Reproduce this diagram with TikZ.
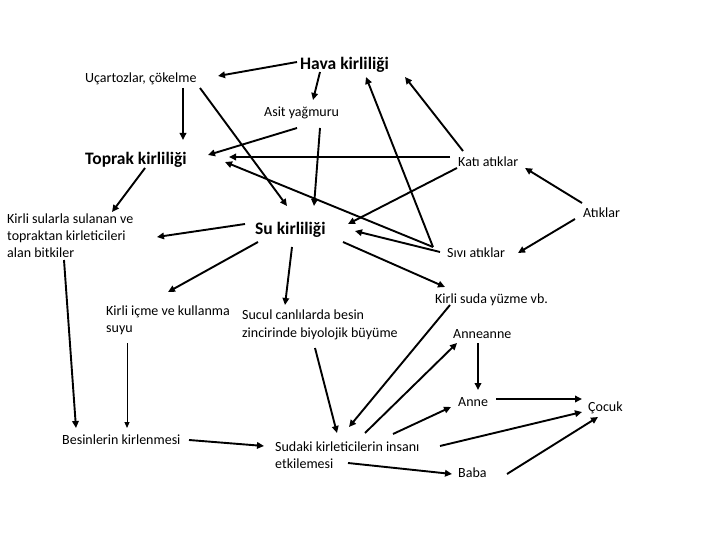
\documentclass[tikz,border=0pt]{standalone}
\usepackage{fontspec}
\setmainfont{Carlito}
\usetikzlibrary{arrows.meta}
\begin{document}
\begin{tikzpicture}[x=1pt,y=-1pt,
  lbl/.style={anchor=base west,inner sep=0pt,font={\fontsize{14}{16.5}\selectfont},align=left},
  big/.style={anchor=base west,inner sep=0pt,font={\fontsize{17.5}{20}\selectfont\bfseries}},
  arr/.style={line width=1.9pt,-{Triangle[length=7pt,width=6.5pt]}},
  thinarr/.style={line width=1pt,-{Triangle[length=6pt,width=5pt]}}]
\path[use as bounding box] (0,0) rectangle (720,540);
\node[big] (hava) at (300,70) {Hava kirliliği};
\node[lbl] (ucar) at (85,83) {Uçartozlar, çökelme};
\node[lbl] (asit) at (264,117) {Asit yağmuru};
\node[big] (toprak) at (85,165) {Toprak kirliliği};
\node[lbl] (kati) at (458,167) {Katı atıklar};
\node[lbl] (atik) at (583,218) {Atıklar};
\node[lbl] (sivi) at (447,257) {Sıvı atıklar};
\node[big] (su) at (255,234) {Su kirliliği};
\node[lbl] (bitki) at (7,257) {Kirli sularla sulanan ve\\topraktan kirleticileri\\alan bitkiler};
\node[lbl] (icme) at (106,332) {Kirli içme ve kullanma\\suyu};
\node[lbl,font={\fontsize{14}{18}\selectfont}] (sucul) at (242,337) {Sucul canlılarda besin\\zincirinde biyolojik büyüme};
\node[lbl] (yuzme) at (435,303) {Kirli suda yüzme vb.};
\node[lbl] (anneanne) at (453,338) {Anneanne};
\node[lbl] (anne) at (458,406) {Anne};
\node[lbl] (cocuk) at (588,411) {Çocuk};
\node[lbl] (besin) at (62,444) {Besinlerin kirlenmesi};
\node[lbl,font={\fontsize{14}{17}\selectfont}] (sudaki) at (275,468) {Sudaki kirleticilerin insanı\\etkilemesi};
\node[lbl] (baba) at (458,477) {Baba};
\draw[arr] ([shift={(-3,-8)}]hava.base west) -- ([shift={(133,-7)}]ucar.base west);
\draw[arr] ([shift={(20,2)}]hava.base west) -- ([shift={(49,-17)}]asit.base west);
\draw[arr] ([shift={(98,5)}]ucar.base west) -- ([shift={(98,-25)}]toprak.base west);
\draw[arr] ([shift={(115,5)}]ucar.base west) -- ([shift={(32,-28)}]su.base west);
\draw[arr] ([shift={(33,11)}]asit.base west) -- ([shift={(123,-10)}]toprak.base west);
\draw[arr] ([shift={(56,11)}]asit.base west) -- ([shift={(59,-28)}]su.base west);
\draw[arr] ([shift={(-8,-10)}]kati.base west) -- ([shift={(144,-8)}]toprak.base west);
\draw[arr] ([shift={(5,-16)}]kati.base west) -- ([shift={(105,7)}]hava.base west);
\draw[arr] ([shift={(-14,-10)}]sivi.base west) -- ([shift={(66,7)}]hava.base west);
\draw[arr] ([shift={(-14,-10)}]sivi.base west) -- ([shift={(140,-3)}]toprak.base west);
\draw[arr] ([shift={(-7,-5)}]sivi.base west) -- ([shift={(100,-3)}]su.base west);
\draw[arr] ([shift={(-1,1)}]kati.base west) -- ([shift={(93,-10)}]su.base west);
\draw[arr] ([shift={(-1,-15)}]atik.base west) -- ([shift={(67,1)}]kati.base west);
\draw[arr] ([shift={(-8,1)}]atik.base west) -- ([shift={(71,-4)}]sivi.base west);
\draw[arr] ([shift={(-10,-10)}]su.base west) -- ([shift={(150,-20)}]bitki.base west);
\draw[arr] ([shift={(60,3)}]toprak.base west) -- ([shift={(105,-45)}]bitki.base west);
\draw[arr] ([shift={(3,8)}]su.base west) -- ([shift={(62,-40)}]icme.base west);
\draw[arr] ([shift={(37,13)}]su.base west) -- ([shift={(43,-32)}]sucul.base west);
\draw[arr] ([shift={(88,8)}]su.base west) -- ([shift={(10,-16)}]yuzme.base west);
\draw[arr] ([shift={(57,3)}]bitki.base west) -- ([shift={(14,-16)}]besin.base west);
\draw[thinarr] ([shift={(21,11)}]icme.base west) -- ([shift={(65,-16)}]besin.base west);
\draw[arr] ([shift={(73,11)}]sucul.base west) -- ([shift={(62,-35)}]sudaki.base west);
\draw[arr] ([shift={(15,2)}]yuzme.base west) -- ([shift={(74,-41)}]sudaki.base west);
\draw[arr] ([shift={(90,-35)}]sudaki.base west) -- ([shift={(4,5)}]anneanne.base west);
\draw[arr] ([shift={(118,-34)}]sudaki.base west) -- ([shift={(-7,1)}]anne.base west);
\draw[arr] ([shift={(165,-22)}]sudaki.base west) -- ([shift={(-6,1)}]cocuk.base west);
\draw[arr] ([shift={(73,-5)}]sudaki.base west) -- ([shift={(-6,-3)}]baba.base west);
\draw[arr] ([shift={(127,-4)}]besin.base west) -- ([shift={(-11,-22)}]sudaki.base west);
\draw[arr] ([shift={(25,5)}]anneanne.base west) -- ([shift={(20,-16)}]anne.base west);
\draw[arr] ([shift={(38,-7)}]anne.base west) -- ([shift={(-6,-12)}]cocuk.base west);
\draw[arr] ([shift={(49,-3)}]baba.base west) -- ([shift={(10,6)}]cocuk.base west);
\end{tikzpicture}
\end{document}
